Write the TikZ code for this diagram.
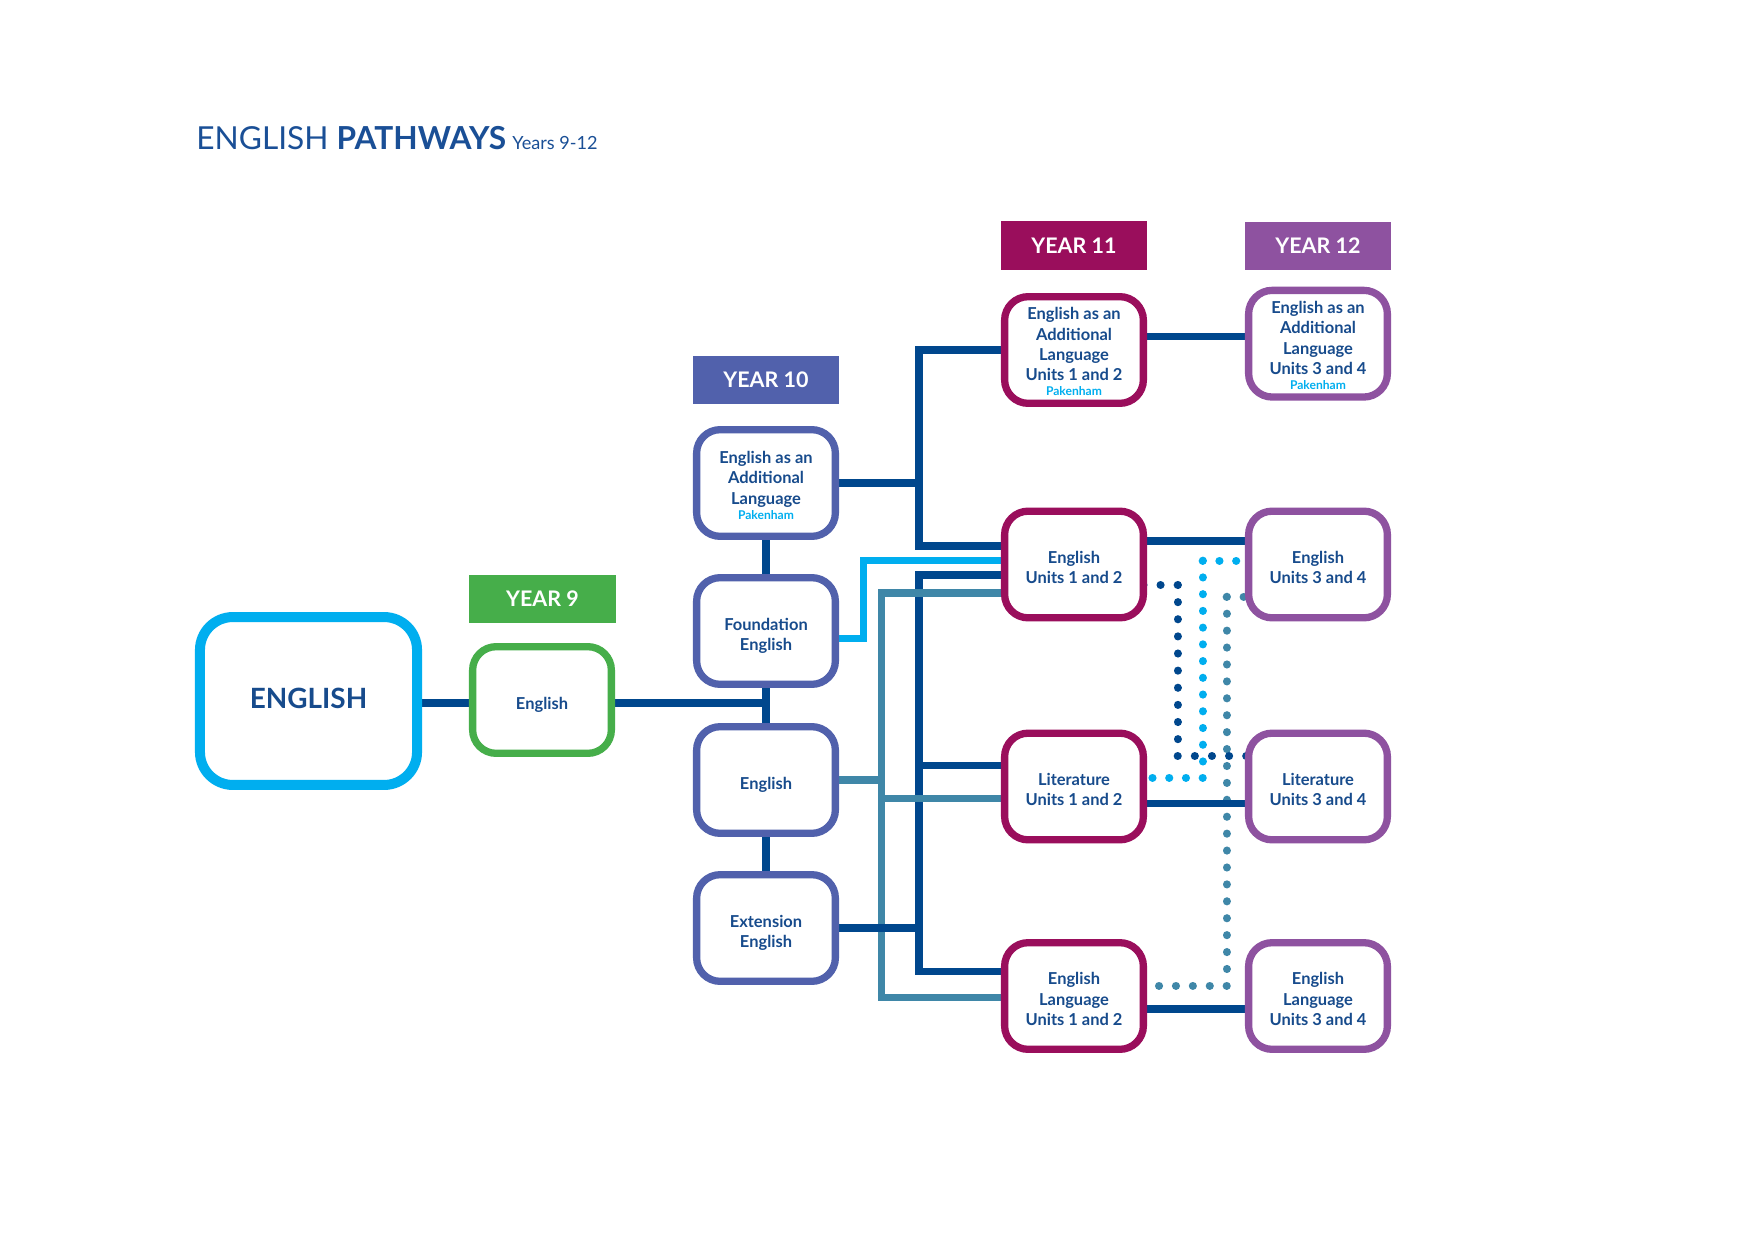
\documentclass[tikz,border=0pt]{standalone}
\usepackage{fontspec}
\setmainfont{Lato}
\usetikzlibrary{calc,backgrounds}
\definecolor{navyl}{HTML}{00478D}
\definecolor{lbl}{HTML}{00AEEF}
\definecolor{tl}{HTML}{3F87A8}
\definecolor{txt}{HTML}{174B8C}
\definecolor{titlec}{HTML}{1A4F96}
\definecolor{grc}{HTML}{46AE4A}
\definecolor{yten}{HTML}{5161AC}
\definecolor{yeleven}{HTML}{9A0E5C}
\definecolor{ytwelve}{HTML}{8E52A0}
\newcommand\pak[1]{{\fontsize{5.8}{6}\selectfont\color{lbl}#1}}
\begin{document}
\begin{tikzpicture}[x=0.48pt,y=-0.48pt,
  boxbase/.style={draw, line width=3.5pt, fill=white, rounded corners=11.3pt,
    minimum width=66.6pt, minimum height=51.2pt, inner sep=0pt},
  boxtext/.style={inner sep=0pt, align=center, text=txt,
    font=\fontsize{7.9}{9.7}\selectfont\bfseries},
  bnine/.style={boxbase, draw=grc},
  bten/.style={boxbase, draw=yten},
  beleven/.style={boxbase, draw=yeleven},
  btwelve/.style={boxbase, draw=ytwelve},
  bigbox/.style={draw=lbl, line width=4.8pt, fill=white, rounded corners=15.8pt,
    minimum width=104.2pt, minimum height=80.6pt, inner sep=0pt,
    text=txt, font=\fontsize{13.4}{15}\selectfont\bfseries},
  yearlab/.style={minimum width=70.3pt, minimum height=23.2pt, inner sep=0pt,
    text=white, font=\fontsize{10.3}{12}\selectfont\bfseries},
  conn/.style={line width=3.5pt},
  navyc/.style={conn, draw=navyl},
  lbc/.style={conn, draw=lbl},
  tlc/.style={conn, draw=tl},
  dotline/.style={line width=3.9pt, line cap=round, dash pattern=on 0.01pt off #1}
]
\useasboundingbox (0,0) rectangle (1754,1240);

% title
\node[anchor=base west, inner sep=0pt, text=titlec] (title) at (196,150)
  {{\fontsize{15.2}{18}\selectfont ENGLISH \bfseries PATHWAYS}\hspace{3pt}{\fontsize{8.7}{10}\selectfont Years 9-12}};

% year labels
\node[yearlab, fill=grc] (lab9) at (542.5,599) {YEAR 9};
\node[yearlab, fill=yten] (lab10) at (766,380) {YEAR 10};
\node[yearlab, fill=yeleven] (lab11) at (1074,245.5) {YEAR 11};
\node[yearlab, fill=ytwelve] (lab12) at (1318,246) {YEAR 12};

% boxes
\node[bigbox] (eng) at (308.5,701) {\raisebox{2.4pt}{ENGLISH}};
\node[bnine] (y9) at (542,700) {};

\node[bten] (eal10) at (766,483) {};
\node[bten] (f10) at (766,631) {};
\node[bten] (en10) at (766,780) {};
\node[bten] (ext10) at (766,928) {};

\node[beleven] (eal11) at (1074,350) {};
\node[beleven] (eng11) at (1074,564.5) {};
\node[beleven] (lit11) at (1074,786.5) {};
\node[beleven] (lang11) at (1074,996) {};

\node[btwelve] (eal12) at (1318,343.7) {};
\node[btwelve] (eng12) at (1318,564.5) {};
\node[btwelve] (lit12) at (1318,786.5) {};
\node[btwelve] (lang12) at (1318,996) {};

% box texts
\node[boxtext] (y9t) at ($(y9)+(0,5)$) {English};
\node[boxtext] (eal10t) at ($(eal10)+(0,2.5)$) {English as an\\Additional\\Language\\[-2.4pt]\pak{Pakenham}};
\node[boxtext] (f10t) at ($(f10)+(0,4.5)$) {Foundation\\English};
\node[boxtext] (en10t) at ($(en10)+(0,4.5)$) {English};
\node[boxtext] (ext10t) at ($(ext10)+(0,4.5)$) {Extension\\English};

\node[boxtext] (eal11t) at ($(eal11)+(0,1.8)$) {English as an\\Additional\\Language\\Units 1 and 2\\[-2.4pt]\pak{Pakenham}};
\node[boxtext] (eng11t) at ($(eng11)+(0,2.8)$) {English\\Units 1 and 2};
\node[boxtext] (lit11t) at ($(lit11)+(0,3)$) {Literature\\Units 1 and 2};
\node[boxtext] (lang11t) at ($(lang11)+(0,3)$) {English\\Language\\Units 1 and 2};

\node[boxtext] (eal12t) at ($(eal12)+(0,1.8)$) {English as an\\Additional\\Language\\Units 3 and 4\\[-2.4pt]\pak{Pakenham}};
\node[boxtext] (eng12t) at ($(eng12)+(0,2.8)$) {English\\Units 3 and 4};
\node[boxtext] (lit12t) at ($(lit12)+(0,3)$) {Literature\\Units 3 and 4};
\node[boxtext] (lang12t) at ($(lang12)+(0,3)$) {English\\Language\\Units 3 and 4};

% junction coordinates
\coordinate (tx) at (919,0);
\coordinate (lbx) at (863.3,0);
\coordinate (tlx) at (881.7,0);
\coordinate (dn) at (1177.7,0);
\coordinate (dl) at (1202.7,0);
\coordinate (dt) at (1226.7,0);

\coordinate (r9) at ($(y9)+(0,3)$);
\coordinate (e11a) at ($(eng11)+(0,-18.5)$);
\coordinate (e11b) at ($(eng11)+(0,-3.8)$);
\coordinate (e11c) at ($(eng11)+(0,10.5)$);
\coordinate (e11d) at ($(eng11)+(0,28.5)$);
\coordinate (l11a) at ($(lit11)+(0,-20.8)$);
\coordinate (l11b) at ($(lit11)+(0,11.8)$);
\coordinate (g11a) at ($(lang11)+(0,-24.5)$);
\coordinate (g11b) at ($(lang11)+(0,1.5)$);
\coordinate (fb) at ($(f10)+(0,7.3)$);

\coordinate (q1) at ($(eal12)+(0,-7)$);
\coordinate (q2) at ($(eng12)+(0,-23.5)$);
\coordinate (q3) at ($(lit12)+(0,16.8)$);
\coordinate (q4) at ($(lang12)+(0,13)$);

\coordinate (dnA) at ($(eng11)+(0,20.5)$);
\coordinate (dnB) at ($(lit12)+(0,-30.5)$);
\coordinate (lbA) at ($(eng12)+(0,-3.8)$);
\coordinate (lbB) at ($(lit11)+(0,-8.8)$);
\coordinate (tA) at ($(eng12)+(0,32.3)$);
\coordinate (tB) at ($(lang11)+(0,-10.3)$);

\begin{pgfonlayer}{background}
\fill[white] (0,0) rectangle (1754,1240);
% year 9 / 10
\draw[navyc] (eng |- r9) -- (r9);
\draw[navyc] (r9) -- (r9 -| f10);
\draw[navyc] (eal10.center) -- (ext10.center);
% to year 11
\draw[navyc] (eal10.center) -- (eal10 -| tx);
\draw[navyc] (eal11.center) -| (tx |- e11a) -- (e11a);
\draw[navyc] (e11c) -| (tx |- g11a) -- (g11a);
\draw[navyc] (l11a) -- (l11a -| tx);
\draw[lbc] (fb) -| (lbx |- e11b) -- (e11b);
\draw[tlc] (e11d) -| (tlx |- g11b) -- (g11b);
\draw[tlc] (l11b) -- (l11b -| tlx);
\draw[tlc] (en10.center) -- (en10 -| tlx);
\draw[navyc] (ext10.center) -- (ext10 -| tx);
% dotted
\draw[dotline=8.11pt, draw=tl] (dt |- tA) -- (tA) (dt |- tA) -- (dt |- tB) (dt |- tB) -- (tB);
\draw[dotline=8.02pt, draw=lbl] (dl |- lbA) -- (lbA) (dl |- lbA) -- (dl |- lbB) (dl |- lbB) -- (lbB);
\draw[dotline=8.21pt, draw=navyl] (dn |- dnA) -- (dnA) (dn |- dnA) -- (dn |- dnB) (dn |- dnB) -- (dnB);
% to year 12
\draw[navyc] (q1 -| eal11) -- (q1);
\draw[navyc] (q2 -| eng11) -- (q2);
\draw[navyc] (q3 -| lit11) -- (q3);
\draw[navyc] (q4 -| lang11) -- (q4);
\end{pgfonlayer}
\end{tikzpicture}
\end{document}
